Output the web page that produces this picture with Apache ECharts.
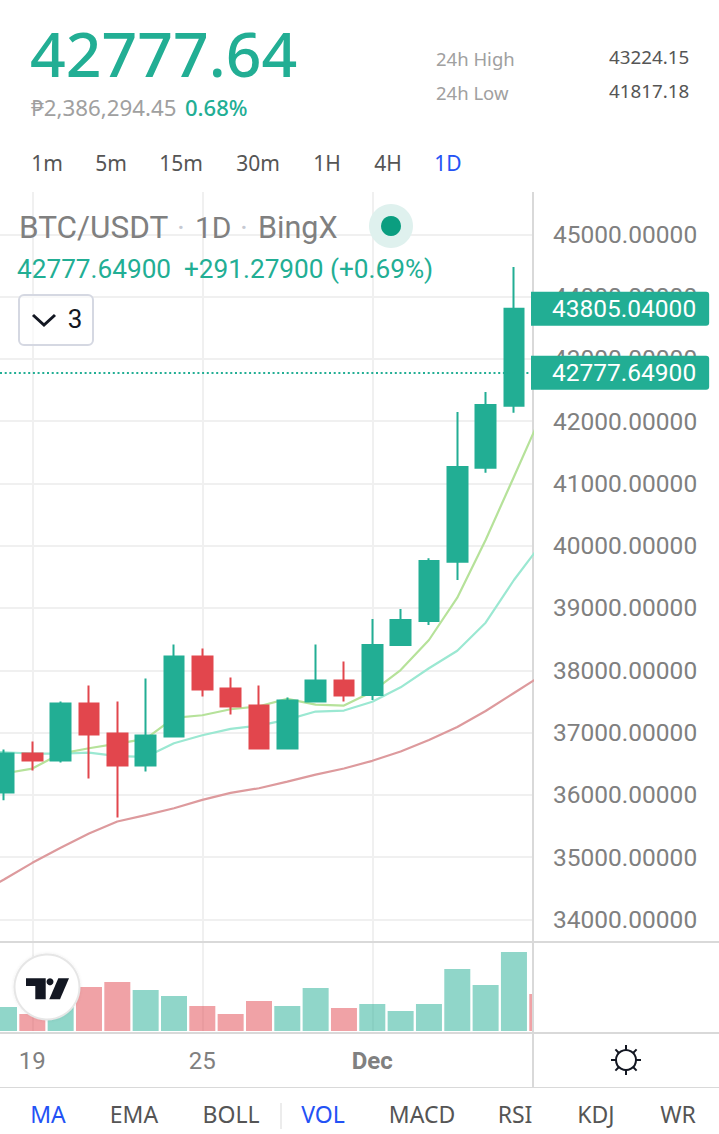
<!DOCTYPE html>
<html>
<head>
<meta charset="utf-8">
<title>BTC/USDT</title>
<script src="https://cdn.jsdelivr.net/npm/echarts@6/dist/echarts.min.js"></script>
<style>
  html, body { margin: 0; padding: 0; background: #fff; }
  #chart { width: 719px; height: 1134px; }
</style>
</head>
<body>
<div id="chart"></div>
<script>
// one entry per day, Nov 17 to Dec 7
const days = ["Nov 17", "Nov 18", "Nov 19", "Nov 20", "Nov 21", "Nov 22", "Nov 23", "Nov 24", "Nov 25", "Nov 26", "Nov 27",
  "Nov 28", "Nov 29", "Nov 30", "Dec 1", "Dec 2", "Dec 3", "Dec 4", "Dec 5", "Dec 6", "Dec 7"];

const opens = [null, 36037, 36662, 36550, 37465, 36984, 36470, 36935, 38219, 37706, 37433, 36743, 37497, 37834, 37603, 38406, 38792, 39743, 41252, 42248, null];
const closes = [null, 36662, 36550, 37465, 36967, 36470, 36951, 38219, 37690, 37417, 36743, 37513, 37834, 37593, 38406, 38807, 39755, 41264, 42259, 43805, null];
const lows = [null, 35914, 36390, 36518, 36261, 35635, 36374, 36919, 37577, 37288, 36743, 36727, 37497, 37497, 37523, 38390, 38727, 39449, 41172, 42135, null];
const highs = [null, 36727, 36855, 37497, 37754, 37497, 37866, 38412, 38348, 37882, 37754, 37561, 38412, 38139, 38823, 38983, 39800, 42147, 42468, 44475, null];

const maShort = [36277, 36342, 36422, 36662, 36748, 36823, 36898, 37235, 37278, 37374, 37422, 37540, 37449, 37433, 37656, 38004, 38486, 39165, 40092, 41108, 42130];
const maMiddle = [36700, 36684, 36662, 36662, 36678, 36620, 36609, 36828, 36957, 37058, 37112, 37208, 37337, 37353, 37495, 37726, 38032, 38314, 38764, 39449, 40050];
const maLong = [34392, 34640, 34908, 35149, 35378, 35571, 35673, 35785, 35919, 36031, 36106, 36213, 36325, 36422, 36546, 36696, 36880, 37089, 37346, 37635, 37924];

const volumes = [null, 24, 17, 29, 44, 49, 41, 35, 25, 17, 30, 25, 43, 23, 27, 20, 27, 62, 46, 79, 37];
const volumeSides = [0, 1, -1, 1, -1, -1, 1, 1, -1, -1, -1, 1, 1, -1, 1, 1, 1, 1, 1, 1, -1];

const priceTicks = [34000, 35000, 36000, 37000, 38000, 39000, 40000, 41000, 42000, 43000, 44000, 45000];
const dayTicks = [2, 8, 14];
const dayTickLabels = ["19", "25", "Dec"];
const priceTags = [43805.04, 42777.649];

const timeframes = ["1m", "5m", "15m", "30m", "1H", "4H", "1D"];
const timeframeX = [47, 111, 181, 258, 327, 388, 448];
const indicators = ["MA", "EMA", "BOLL", "VOL", "MACD", "RSI", "KDJ", "WR"];
const indicatorX = [48, 134, 231, 323, 422, 515, 596, 678];

const UP = "#22ae94";
const DOWN = "#e2464d";
const BLUE = "#2352f5";
const GRID = "#f0f0f0";
const FRAME = "#d9d9d9";
const INK = "#131722";
const AXIS_FONT = "Roboto";
const HEAD_FONT = '"Noto Sans"';

function label(text, x, y, fill, size, opts = {}) {
  return {
    type: "text",
    x,
    y,
    z: 10,
    silent: true,
    style: {
      text,
      fill,
      font: `${opts.weight || 400} ${size}px ${opts.family || HEAD_FONT}`,
      textAlign: opts.align || "left",
      textVerticalAlign: "middle",
    },
  };
}

function rule(x1, y1, x2, y2, stroke, width, z = 9) {
  return {
    type: "line",
    z,
    silent: true,
    shape: { x1, y1, x2, y2 },
    style: { stroke, lineWidth: width },
  };
}

function buildChrome() {
  const items = [
    // header
    label("42777.64", 30, 52, UP, 62.5, { weight: 500 }),
    label("₱2,386,294.45", 31, 107, "#a0a0a0", 22.3),
    label("0.68%", 185, 107, UP, 22, { weight: 500 }),
    label("24h High", 436, 58, "#a0a0a0", 18.5),
    label("24h Low", 436, 92, "#a0a0a0", 18.5),
    label("43224.15", 609, 57, "#555555", 18.8),
    label("41817.18", 609, 91, "#555555", 18.8),

    // bars on a value axis are not cut at the grid edge, so mask the overflow
    { type: "rect", z: 5, silent: true, shape: { x: 532, y: 943, width: 30, height: 89 }, style: { fill: "#fff" } },

    // frame, price tags sit above the upper part of the axis line
    rule(533, 192, 533, 942, FRAME, 2, 0),
    rule(533, 942, 533, 1087, FRAME, 2),
    rule(0, 942, 719, 942, FRAME, 2),
    rule(0, 1033, 719, 1033, FRAME, 2),
    rule(0, 1087.5, 719, 1087.5, FRAME, 1),
    rule(281, 1103, 281, 1129, FRAME, 1),

    // legend
    label("BTC/USDT", 19, 227, "#808080", 31.5, { family: AXIS_FONT }),
    label("·", 181, 227, "#c6c9d2", 30, { family: AXIS_FONT, align: "center" }),
    label("1D", 195, 227, "#808080", 30, { family: AXIS_FONT }),
    label("·", 244, 227, "#c6c9d2", 30, { family: AXIS_FONT, align: "center" }),
    label("BingX", 258, 227, "#808080", 30.5, { family: AXIS_FONT }),
    label("42777.64900", 17, 269, UP, 26.2, { family: AXIS_FONT }),
    label("+291.27900 (+0.69%)", 184, 269, UP, 26.2, { family: AXIS_FONT }),
    { type: "circle", z: 9, silent: true, shape: { cx: 391, cy: 226, r: 22 }, style: { fill: "#dff1ee" } },
    { type: "circle", z: 10, silent: true, shape: { cx: 391, cy: 226, r: 10 }, style: { fill: "#0b9e80" } },

    // collapse box
    {
      type: "rect", z: 9, silent: true,
      shape: { x: 19, y: 295, width: 74, height: 50, r: 5 },
      style: { fill: "rgba(255,255,255,0.6)", stroke: "#d5d8e2", lineWidth: 2 },
    },
    {
      type: "polyline", z: 10, silent: true,
      shape: { points: [[33, 315], [44, 325], [55, 315]] },
      style: { stroke: INK, lineWidth: 3, fill: null },
    },
    label("3", 75, 319, INK, 26, { family: AXIS_FONT, align: "center" }),

    // logo
    {
      type: "circle", z: 9, silent: true,
      shape: { cx: 47, cy: 987, r: 32.5 },
      style: { fill: "#fff", stroke: "#e6e6e6", lineWidth: 2, shadowBlur: 3, shadowColor: "rgba(0,0,0,0.08)" },
    },
    {
      type: "polygon", z: 10, silent: true,
      shape: { points: [[26, 978.3], [45.7, 978.3], [45.7, 999.3], [35.3, 999.3], [35.3, 986], [26, 986]] },
      style: { fill: INK },
    },
    { type: "circle", z: 10, silent: true, shape: { cx: 50, cy: 981.7, r: 3.5 }, style: { fill: INK } },
    {
      type: "polygon", z: 10, silent: true,
      shape: { points: [[58.3, 978.3], [69, 978.3], [60, 999.3], [49.3, 999.3]] },
      style: { fill: INK },
    },

    // sun icon
    {
      type: "circle", z: 10, silent: true,
      shape: { cx: 626, cy: 1060, r: 10 },
      style: { fill: "#fff", stroke: INK, lineWidth: 2 },
    },
  ];

  for (let i = 0; i < 8; i++) {
    const a = (i * Math.PI) / 4;
    items.push(rule(626 + 10 * Math.cos(a), 1060 + 10 * Math.sin(a), 626 + 15 * Math.cos(a), 1060 + 15 * Math.sin(a), INK, 2));
  }

  timeframes.forEach((name, i) => {
    items.push(label(name, timeframeX[i], 162.5, name === "1D" ? BLUE : "#555555", 21, { align: "center" }));
  });
  indicators.forEach((name, i) => {
    const active = name === "MA" || name === "VOL";
    items.push(label(name, indicatorX[i], 1113.5, active ? BLUE : "#555555", 23, { align: "center" }));
  });

  return items;
}

function maSeries(name, values, color, extra = {}) {
  return {
    name,
    type: "line",
    data: values.map((v, i) => [i, v]),
    xAxisIndex: 0,
    yAxisIndex: 0,
    showSymbol: false,
    z: 1,
    lineStyle: { color, width: 2.2 },
    ...extra,
  };
}

function tagLine(value, lineStyle) {
  return {
    yAxis: value,
    lineStyle,
    label: {
      show: true,
      position: "end",
      distance: -1,
      formatter: value.toFixed(5),
      color: "#fff",
      fontFamily: AXIS_FONT,
      fontSize: 24.5,
      backgroundColor: UP,
      borderRadius: [0, 3, 3, 0],
      padding: [5, 13, 3, 21],
      lineHeight: 26,
    },
  };
}

const candles = days
  .map((d, i) => [i, opens[i], closes[i], lows[i], highs[i]])
  .filter((row) => row[1] !== null);

const bars = days
  .map((d, i) => ({
    value: [i, volumes[i]],
    itemStyle: { color: volumeSides[i] > 0 ? "rgba(34,174,148,0.5)" : "rgba(226,70,77,0.5)" },
  }))
  .filter((row) => row.value[1] !== null);

const chart = echarts.init(document.getElementById("chart"), null, { renderer: "svg" });

const xRange = { type: "value", min: 0.859, max: 19.637 };

chart.setOption({
  animation: false,
  backgroundColor: "#fff",
  graphic: { elements: buildChrome() },
  grid: [
    { left: 0, top: 192, width: 532, height: 749 },
    { left: 0, top: 942, width: 532, height: 89 },
  ],
  xAxis: [
    {
      ...xRange,
      gridIndex: 0,
      axisLine: { show: false },
      axisTick: { show: false, customValues: dayTicks },
      axisLabel: { show: false },
      splitLine: { show: true, lineStyle: { color: GRID, width: 2 } },
    },
    {
      ...xRange,
      gridIndex: 1,
      axisLine: { show: false },
      axisTick: { show: false, customValues: dayTicks },
      axisLabel: {
        customValues: dayTicks,
        margin: 18,
        color: "#808080",
        fontFamily: AXIS_FONT,
        fontSize: 24,
        formatter: (value) => {
          const text = dayTickLabels[dayTicks.indexOf(value)];
          return text === "Dec" ? "{month|Dec}" : text;
        },
        rich: { month: { fontFamily: AXIS_FONT, fontSize: 24, fontWeight: 700, color: "#808080" } },
      },
      splitLine: { show: true, lineStyle: { color: GRID, width: 2 } },
    },
  ],
  yAxis: [
    {
      type: "value",
      gridIndex: 0,
      position: "right",
      min: 33653,
      max: 45679,
      axisLine: { show: false },
      axisTick: { show: false, customValues: priceTicks },
      axisLabel: {
        customValues: priceTicks,
        margin: 21,
        padding: [2, 0, 0, 0],
        color: "#808080",
        fontFamily: AXIS_FONT,
        fontSize: 24.5,
        formatter: (value) => value.toFixed(5),
      },
      splitLine: { show: true, lineStyle: { color: GRID, width: 2 } },
    },
    {
      type: "value",
      gridIndex: 1,
      min: 0,
      max: 89,
      axisLine: { show: false },
      axisTick: { show: false },
      axisLabel: { show: false },
      splitLine: { show: false },
    },
  ],
  series: [
    maSeries("MA long", maLong, "#dd9a9d"),
    maSeries("MA middle", maMiddle, "#9be8d2"),
    maSeries("MA short", maShort, "#b6e29a", {
      markLine: {
        silent: true,
        symbol: "none",
        animation: false,
        data: [
          tagLine(priceTags[0], { color: "transparent", width: 0 }),
          tagLine(priceTags[1], { color: UP, width: 2, type: [2, 2.7], opacity: 1 }),
        ],
      },
    }),
    {
      name: "BTC/USDT",
      type: "candlestick",
      xAxisIndex: 0,
      yAxisIndex: 0,
      data: candles,
      encode: { x: 0, y: [1, 2, 3, 4] },
      barWidth: 20,
      z: 3,
      itemStyle: { color: UP, color0: DOWN, borderColor: UP, borderColor0: DOWN, borderWidth: 2 },
    },
    {
      name: "Volume",
      type: "bar",
      xAxisIndex: 1,
      yAxisIndex: 1,
      data: bars,
      barWidth: 26,
    },
  ],
});
</script>
</body>
</html>
